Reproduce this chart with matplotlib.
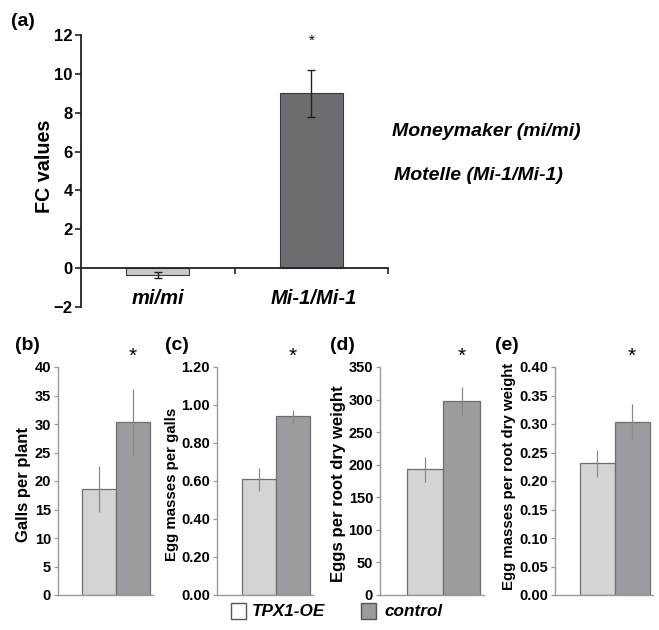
import matplotlib
matplotlib.use("Agg")
import matplotlib.pyplot as plt
from matplotlib.patches import Rectangle
from matplotlib.ticker import FormatStrFormatter, MultipleLocator

# ---------------- data ----------------
a_categories = ["mi/mi", "Mi-1/Mi-1"]
a_values = [-0.35, 9.0]
a_errors = [0.15, 1.2]

groups = ["TPX1-OE", "control"]
b_values = [18.6, 30.3]
b_errors = [4.1, 5.8]
c_values = [0.61, 0.94]
c_errors = [0.06, 0.035]
d_values = [193, 298]
d_errors = [19, 21]
e_values = [0.231, 0.304]
e_errors = [0.024, 0.031]

W, H = 659, 630
fig = plt.figure(figsize=(W / 100, H / 100), dpi=100)

SANS = ["Liberation Sans", "DejaVu Sans"]


def px(left, top, right, bottom):
    return [left / W, 1 - bottom / H, (right - left) / W, (bottom - top) / H]


def fx(x):
    return x / W


def fy(y):
    return 1 - y / H


# ---------------- panel (a) ----------------
ax = fig.add_axes(px(81, 35, 388, 307))
cols_a = ["#c9c9c9", "#6c6d71"]
ax.bar(range(len(a_values)), a_values, width=0.41, color=cols_a,
       edgecolor="#3a3a3a", linewidth=0.8, zorder=2)
ax.errorbar(range(len(a_values)), a_values, yerr=a_errors, fmt="none",
            ecolor="#222222", elinewidth=1.0, capsize=3, capthick=1.0, zorder=3)
ax.set_xlim(-0.5, 1.5)
ax.set_ylim(-2, 12)
ax.spines["top"].set_visible(False)
ax.spines["right"].set_visible(False)
ax.spines["bottom"].set_position(("data", 0))
for s in ["left", "bottom"]:
    ax.spines[s].set_linewidth(1.3)
    ax.spines[s].set_color("#222222")
ax.set_xticks([0.5, 1.5])
ax.set_xticklabels([])
ax.tick_params(axis="x", direction="out", length=4, width=1.2, color="#222222")
ax.tick_params(axis="y", direction="out", length=4, width=1.2, color="#222222",
               labelsize=12, pad=2)
yt = list(range(-2, 13, 2))
ax.set_yticks(yt)
ax.set_yticklabels(["\u22122" if t < 0 else f"{t}" for t in yt])
for lab in ax.get_yticklabels():
    lab.set_family(SANS)
    lab.set_fontweight("bold")
for i, cat in enumerate(a_categories):
    ax.text(i + 0.02 * i, -1.55, cat, ha="center", va="center", fontsize=14.5,
            fontweight="bold", fontstyle="italic", family=SANS)
ax.text(1, a_values[1] + a_errors[1] + 1.5, "*", ha="center", va="center",
        fontsize=11, family=SANS)
ax.patch.set_alpha(0)
fig.text(fx(44.5), fy(166), "FC values", rotation=90, fontsize=14.2,
         fontweight="bold", family=SANS, ha="center", va="center")

fig.text(fx(392), fy(132), "Moneymaker (mi/mi)", fontsize=14,
         fontweight="bold", fontstyle="italic", family=SANS, va="center", ha="left")
fig.text(fx(394), fy(176), "Motelle (Mi-1/Mi-1)", fontsize=14,
         fontweight="bold", fontstyle="italic", family=SANS, va="center", ha="left")
fig.text(fx(11), fy(21), "(a)", fontsize=14, fontweight="bold",
         family=SANS, va="center", ha="left")

# ---------------- panels (b)-(e) ----------------
cols = ["#d4d4d4", "#9c9ca0"]
panels = [
    ("(b)", "Galls per plant", b_values, b_errors, 40, 5, "%d", (58, 153), 15, (24, 484, 12.0)),
    ("(c)", "Egg masses per galls", c_values, c_errors, 1.2, 0.2, "%.2f", (217, 313), 165, (172, 484, 10.8)),
    ("(d)", "Eggs per root dry weight", d_values, d_errors, 350, 50, "%d", (380, 484), 330, (338, 484, 12.1)),
    ("(e)", "Egg masses per root dry weight", e_values, e_errors, 0.40, 0.05, "%.2f", (555, 653), 495, (509, 476, 10.8)),
]
for tag, ylabel, vals, errs, ymax, step, fmt, (l, r), tagx, (lx, ly, lfs) in panels:
    ax = fig.add_axes(px(l, 367, r, 595))
    x = list(range(len(vals)))
    ax.bar(x, vals, width=1.0, color=cols, edgecolor="#6e6e6e", linewidth=0.9, zorder=2)
    ax.errorbar(x, vals, yerr=errs, fmt="none", ecolor="#8a8a8a",
                elinewidth=0.9, capsize=0, zorder=3)
    ax.set_xlim(-1.22, 1.6)
    ax.set_ylim(0, ymax)
    ax.yaxis.set_major_locator(MultipleLocator(step))
    ax.yaxis.set_major_formatter(FormatStrFormatter(fmt))
    ax.set_xticks([])
    ax.spines["top"].set_visible(False)
    ax.spines["right"].set_visible(False)
    for s in ["left", "bottom"]:
        ax.spines[s].set_color("#9a9a9a")
        ax.spines[s].set_linewidth(1.0)
    ax.tick_params(axis="y", direction="out", length=3, width=0.9, color="#9a9a9a",
                   labelsize=10.5, pad=2)
    for lab in ax.get_yticklabels():
        lab.set_family(SANS)
        lab.set_fontweight("bold")
    ax.patch.set_alpha(0)
    fig.text(fx(lx), fy(ly), ylabel, rotation=90, fontsize=lfs, fontweight="bold",
             family=SANS, ha="center", va="center")
    # significance asterisk above the control bar
    ax.text(1, ymax * 1.045, "*", ha="center", va="center", fontsize=15,
            family=SANS, clip_on=False)
    fig.text(fx(tagx), fy(345), tag, fontsize=14, fontweight="bold",
             family=SANS, va="center", ha="left")

# ---------------- legend ----------------
leg_items = [(231, "#ffffff", groups[0], 252), (361, cols[1], groups[1], 384)]
for sx, col, name, tx in leg_items:
    fig.patches.append(Rectangle((fx(sx), fy(619)), 15 / W, 16 / H,
                                 transform=fig.transFigure, facecolor=col,
                                 edgecolor="#555555", linewidth=1.0))
    fig.text(fx(tx), fy(611), name, fontsize=12.3, fontweight="bold",
             fontstyle="italic", family=SANS, va="center", ha="left")

fig.savefig("out.png", dpi=100)
